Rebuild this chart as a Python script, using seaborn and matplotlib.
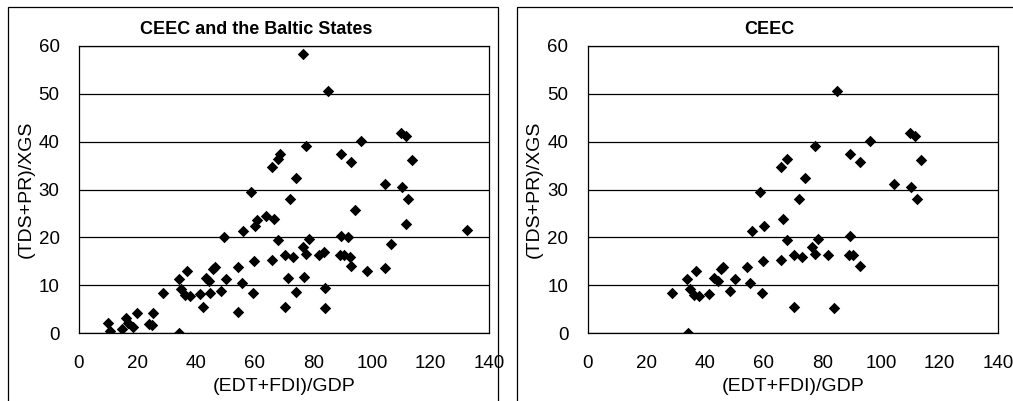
import matplotlib
matplotlib.use("Agg")
import matplotlib.pyplot as plt
from matplotlib.patches import Rectangle
import seaborn as sns
import pandas as pd

# ---- data ----
ceec_x = [28.6, 34.0, 34.1, 34.8, 36.2, 36.8, 37.9, 41.3, 43.2, 44.5, 45.6, 46.3,
          48.4, 50.1, 54.3, 55.5, 56.1, 58.7, 59.3, 59.9, 60.2, 66.6, 65.9, 67.8,
          66.0, 68.0, 70.3, 70.4, 71.9, 73.2, 74.2, 76.5, 77.4, 77.5, 78.5, 81.8,
          84.0, 85.1, 89.1, 89.4, 89.6, 90.5, 92.9, 93.0, 96.2, 104.5, 109.9,
          110.4, 111.7, 112.2, 113.8]
ceec_y = [8.4, 11.2, 0.0, 9.1, 7.9, 13.0, 7.7, 8.1, 11.6, 10.9, 13.3, 13.8,
          8.8, 11.2, 13.9, 10.5, 21.3, 29.4, 8.4, 15.0, 22.3, 23.9, 15.3, 19.5,
          34.7, 36.3, 5.4, 16.3, 28.0, 15.8, 32.4, 18.0, 39.1, 16.6, 19.6, 16.3,
          5.2, 50.6, 16.3, 20.3, 37.5, 16.3, 35.7, 14.1, 40.2, 31.2, 41.9,
          30.5, 41.2, 28.0, 36.1]
baltic_x = [9.8, 10.5, 14.8, 16.0, 16.8, 18.6, 19.8, 23.8, 24.9, 25.2, 42.2, 44.7,
            49.5, 54.3, 60.9, 63.7, 68.6, 71.4, 74.1, 76.4, 76.9, 83.5, 84.0,
            91.7, 92.5, 94.4, 98.3, 104.5, 106.6, 111.5, 132.5]
baltic_y = [2.1, 0.4, 0.8, 3.1, 2.0, 1.3, 4.1, 1.8, 1.6, 4.1, 5.4, 8.4,
            20.0, 4.4, 23.7, 24.5, 37.5, 11.5, 8.5, 58.3, 11.8, 17.0, 9.5,
            20.0, 15.9, 25.7, 12.9, 13.5, 18.6, 22.7, 21.6]

titles = ["CEEC and the Baltic States", "CEEC"]
x_label = "(EDT+FDI)/GDP"
y_label = "(TDS+PR)/XGS"
x_ticks = [0, 20, 40, 60, 80, 100, 120, 140]
y_ticks = [0, 10, 20, 30, 40, 50, 60]

df_all = pd.DataFrame({"x": ceec_x + baltic_x, "y": ceec_y + baltic_y})
df_ceec = pd.DataFrame({"x": ceec_x, "y": ceec_y})

sns.set_style("white")
plt.rcParams["font.family"] = ["Liberation Sans", "DejaVu Sans"]
plt.rcParams["text.color"] = "black"

W, H = 1013, 401
fig = plt.figure(figsize=(W / 100, H / 100), dpi=100)

# chart-area frames
fig.add_artist(Rectangle((8 / W, -0.1), (498 - 8) / W, (H - 7) / H + 0.1,
                         transform=fig.transFigure, fill=False, ec="black", lw=0.9))
fig.add_artist(Rectangle((517 / W, -0.1), 0.6, (H - 7) / H + 0.1,
                         transform=fig.transFigure, fill=False, ec="black", lw=0.9))

ax_bottom = (H - 333) / H
ax_height = 287 / H
ax1 = fig.add_axes([79 / W, ax_bottom, 410 / W, ax_height])
ax2 = fig.add_axes([587.7 / W, ax_bottom, 410.6 / W, ax_height])

title_x = [(256 - 79) / 410, (769 - 587.7) / 410.6]

for ax, df, title, tx in zip([ax1, ax2], [df_all, df_ceec], titles, title_x):
    sns.scatterplot(data=df, x="x", y="y", ax=ax, marker="D", s=34,
                    color="black", edgecolor="black", linewidth=0, zorder=3)
    ax.set_xlim(0, 140)
    ax.set_ylim(0, 60)
    ax.set_xticks(x_ticks)
    ax.set_yticks(y_ticks)
    ax.yaxis.grid(True, color="black", lw=0.9)
    ax.xaxis.grid(False)
    ax.set_axisbelow(True)
    for sp in ax.spines.values():
        sp.set_visible(True)
        sp.set_color("black")
        sp.set_linewidth(0.9)
    ax.tick_params(axis="both", direction="out", length=5, width=0.9,
                   color="black", labelsize=13.5, labelcolor="black")
    ax.tick_params(axis="y", pad=9)
    ax.tick_params(axis="x", pad=11)
    ax.set_xlabel(x_label, fontsize=14, color="black", labelpad=4)
    ax.set_ylabel(y_label, fontsize=14, color="black", labelpad=3)
    ax.set_title(title, fontsize=13, fontweight="bold", x=tx, pad=9,
                 color="black")

fig.savefig("out.png", dpi=100)
